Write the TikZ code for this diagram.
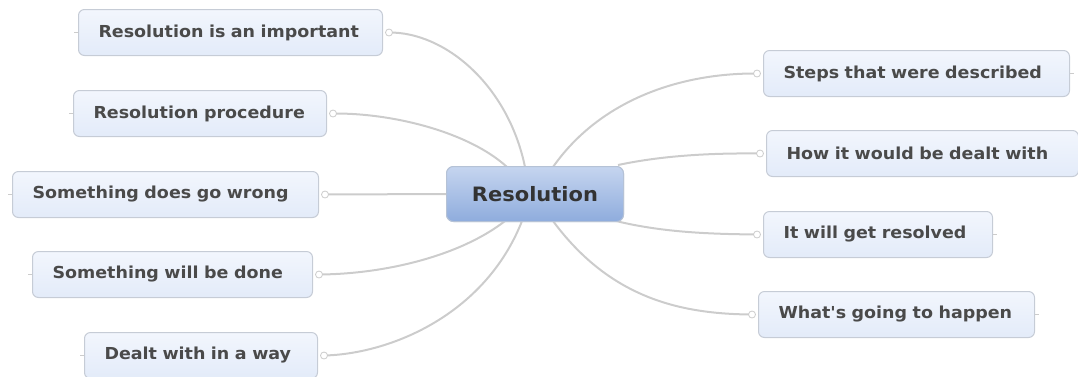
\documentclass[tikz,border=0pt]{standalone}
\usepackage{fontspec}
\setmainfont{DejaVu Sans}[FakeStretch=1.06, Ligatures=TeXOff]
\usetikzlibrary{calc}
\definecolor{linkgray}{HTML}{CCCCCC}
\definecolor{boxborder}{HTML}{C6CCD6}
\definecolor{boxtop}{HTML}{F2F6FD}
\definecolor{boxbottom}{HTML}{E3EBF9}
\definecolor{hubtop}{HTML}{C5D5EF}
\definecolor{hubbottom}{HTML}{8EACDD}
\definecolor{hubborder}{HTML}{B5C2D6}
\definecolor{topictext}{HTML}{4A4A4A}
\definecolor{hubtext}{HTML}{333333}
\tikzset{
  topic/.style={draw=boxborder, line width=1pt, rounded corners=6pt,
    top color=boxtop, bottom color=boxbottom, anchor=north west,
    minimum height=46pt, inner xsep=20pt, inner ysep=0pt, align=left,
    text=topictext, font=\fontsize{16.5}{19}\selectfont\bfseries},
  hub/.style={draw=hubborder, line width=1pt, rounded corners=7pt,
    top color=hubtop, bottom color=hubbottom, anchor=north west,
    minimum width=177pt, minimum height=55pt, inner sep=0pt,
    text=hubtext, font=\fontsize{19.8}{24}\selectfont\bfseries},
  link/.style={draw=linkgray, line width=2pt},
  stub/.style={draw=linkgray, line width=1pt},
  knob/.style={circle, draw=linkgray, fill=white, line width=0.8pt,
    minimum size=7pt, inner sep=0pt}
}
\begin{document}
\begin{tikzpicture}[x=1pt, y=-1pt]
\useasboundingbox (0,0) rectangle (1078,376);

% central topic
\node[hub] (hub) at (446,166) {Resolution};

% left branch
\node[topic, text width=264pt] (l1) at (78,9)   {Resolution is an important};
\node[topic, text width=213pt] (l2) at (73,90)  {Resolution procedure};
\node[topic, text width=266pt] (l3) at (12,171) {Something does go wrong};
\node[topic, text width=240pt] (l4) at (32,251) {Something will be done};
\node[topic, text width=193pt] (l5) at (84,332) {Dealt with in a way};

% right branch
\node[topic, text width=266pt] (r1) at (763,50)  {Steps that were described};
\node[topic, text width=272pt] (r2) at (766,130) {How it would be dealt with};
\node[topic, text width=189pt] (r3) at (763,211) {It will get resolved};
\node[topic, text width=236pt] (r4) at (758,291) {What's going to happen};

% attachment points on the hub
\coordinate (h1) at (525,167);
\coordinate (h2) at (507,167);
\coordinate (h4) at (505,221);
\coordinate (h5) at (522,221);
\coordinate (h6) at (553,167);
\coordinate (h7) at (618,165);
\coordinate (h8) at (616,221);
\coordinate (h9) at (553,221);

% connector ends beside each topic
\foreach \n in {l1,l2,l3,l4,l5}{
  \coordinate (\n k) at ($(\n.east)+(6,0)$);
  \draw[stub] (\n.west) -- ++(-4,0);
}
\foreach \n in {r1,r2,r3,r4}{
  \coordinate (\n k) at ($(\n.west)+(-6,0)$);
  \draw[stub] (\n.east) -- ++(4,0);
}

% curved links
\draw[link] (h1) .. controls (508,85) and (445,32) .. (l1k);
\draw[link] (h2) .. controls (470,133) and (395,113) .. (l2k);
\draw[link] (hub.west) -- (l3k);
\draw[link] (h4) .. controls (460,256) and (385,274) .. (l4k);
\draw[link] (h5) .. controls (485,315) and (390,354) .. (l5k);
\draw[link] (h6) .. controls (600,100) and (680,73) .. (r1k);
\draw[link] (h7) .. controls (665,155) and (715,153) .. (r2k);
\draw[link] (h8) .. controls (665,233) and (715,234) .. (r3k);
\draw[link] (h9) .. controls (610,298) and (680,314) .. (r4k);

% small end knobs
\foreach \n in {l1,l2,l3,l4,l5,r1,r2,r3,r4}{
  \node[knob] (\n o) at (\n k) {};
}

% redraw the hub over the link ends
\node[hub] (hubtop) at (446,166) {Resolution};
\end{tikzpicture}
\end{document}
